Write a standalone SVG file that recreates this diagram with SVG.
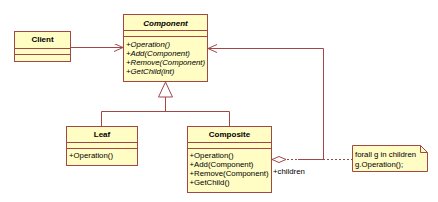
<svg xmlns="http://www.w3.org/2000/svg" width="438" height="202" viewBox="0 0 438 202">
<defs>
<style>
.box{fill:#fffcc4;stroke:#a04848;stroke-width:1}
.ln{fill:none;stroke:#a04848;stroke-width:1}
.dot{fill:none;stroke:#a04848;stroke-width:1;stroke-dasharray:2,2}
text{font-family:"Liberation Sans",Arial,sans-serif;font-size:7.8px;fill:#000}
.t{font-weight:bold;text-anchor:middle;font-size:8px}
.i{font-style:italic}
</style>
<marker id="open" markerWidth="10" markerHeight="10" refX="9" refY="4" orient="auto" markerUnits="userSpaceOnUse">
<path d="M0,0 L9,4 L0,8" fill="none" stroke="#a04848"/>
</marker>
</defs>
<rect width="438" height="202" fill="#fff"/>
<g id="connectors">
<line class="ln" x1="70.5" y1="47.5" x2="123" y2="47.5" marker-end="url(#open)"/>
<polyline class="ln" points="298,159.5 323.5,159.5 323.5,48.5 208,48.5" marker-end="url(#open)"/>
<line class="dot" x1="287" y1="159.5" x2="352" y2="159.5"/>
<polygon points="272,159.5 279,156.5 286,159.5 279,162.5" fill="#fff" stroke="#a04848"/>
<polygon points="165.5,82 158.5,97 172.5,97" fill="#fff" stroke="#a04848"/>
<polyline class="ln" points="165.5,97 165.5,111.5"/>
<polyline class="ln" points="101.5,126 101.5,111.5 229.5,111.5 229.5,126"/>
<text x="273" y="174">+children</text>
</g>
<g id="client">
<rect class="box" x="14.5" y="31.5" width="56" height="30"/>
<line class="ln" x1="14.5" y1="48.5" x2="70.5" y2="48.5"/>
<line class="ln" x1="14.5" y1="54.5" x2="70.5" y2="54.5"/>
<text class="t" x="42.5" y="42">Client</text>
</g>
<g id="component">
<rect class="box" x="123.5" y="14.5" width="84" height="67"/>
<line class="ln" x1="123.5" y1="30.5" x2="207.5" y2="30.5"/>
<line class="ln" x1="123.5" y1="36.5" x2="207.5" y2="36.5"/>
<text class="t i" x="165.5" y="26">Component</text>
<text class="i" x="126" y="47">+Operation()</text>
<text class="i" x="126" y="56">+Add(Component)</text>
<text class="i" x="126" y="65">+Remove(Component)</text>
<text class="i" x="126" y="74">+GetChild(int)</text>
</g>
<g id="leaf">
<rect class="box" x="66.5" y="126.5" width="71" height="39"/>
<line class="ln" x1="66.5" y1="142.5" x2="137.5" y2="142.5"/>
<line class="ln" x1="66.5" y1="148.5" x2="137.5" y2="148.5"/>
<text class="t" x="102" y="137">Leaf</text>
<text x="69" y="158">+Operation()</text>
</g>
<g id="composite">
<rect class="box" x="187.5" y="126.5" width="84" height="66"/>
<line class="ln" x1="187.5" y1="142.5" x2="271.5" y2="142.5"/>
<line class="ln" x1="187.5" y1="148.5" x2="271.5" y2="148.5"/>
<text class="t" x="229.5" y="137">Composite</text>
<text x="189.5" y="158">+Operation()</text>
<text x="189.5" y="167">+Add(Component)</text>
<text x="189.5" y="176">+Remove(Component)</text>
<text x="189.5" y="185">+GetChild()</text>
</g>
<g id="note">
<path class="box" d="M352.5,145.5 H420.5 L427.5,152.5 V171.5 H352.5 Z"/>
<path class="ln" d="M420.5,145.5 V152.5 H427.5"/>
<text x="355" y="157">forall g in children</text>
<text x="355" y="167">g.Operation();</text>
</g>
</svg>
